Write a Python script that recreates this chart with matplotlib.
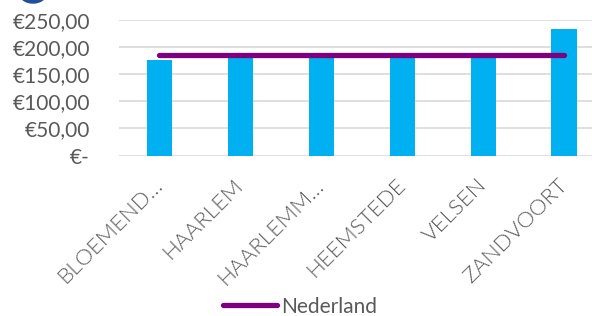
import matplotlib
matplotlib.use("Agg")
import matplotlib.pyplot as plt
from matplotlib.patches import Ellipse
from matplotlib.ticker import FuncFormatter

plt.rcParams['font.family'] = ['Lato', 'DejaVu Sans']

categories = ["BLOEMEND…", "HAARLEM", "HAARLEMM…", "HEEMSTEDE", "VELSEN", "ZANDVOORT"]
values = [175.5, 183.0, 183.0, 183.0, 183.0, 232.5]
nederland = [186.0] * 6
yticks = [0, 50, 100, 150, 200, 250]

bar_color = "#00B0F0"
line_color = "#7F007F"
text_color = "#595959"
grid_color = "#D9D9D9"

fig = plt.figure(figsize=(5.92, 3.16), dpi=100)
ax = fig.add_axes([119/592, 1-155.5/316, (604.5-119)/592, (155.5-20)/316])

x = list(range(len(categories)))
ax.bar(x, values, width=0.31, color=bar_color, zorder=2)
ax.plot(x, nederland, color=line_color, lw=3.8, solid_capstyle='round', zorder=3, label="Nederland")

ax.set_xlim(-0.5, len(categories) - 0.5)
ax.set_ylim(0, 250)
ax.set_yticks(yticks)

def fmt(v, pos):
    if v == 0:
        return "€-"
    return "€" + f"{v:.2f}".replace(".", ",")

ax.yaxis.set_major_formatter(FuncFormatter(fmt))
ax.grid(axis='y', color=grid_color, lw=1.2, zorder=0)
ax.set_axisbelow(True)
for s in ax.spines.values():
    s.set_visible(False)
ax.tick_params(axis='both', length=0, colors=text_color, labelsize=15)
ax.tick_params(axis='y', pad=21)
ax.set_xticks(x)
ax.set_xticklabels(categories, rotation=45, ha='right', va='center', rotation_mode='anchor',
                   fontsize=16, fontweight=300)
for lbl in ax.get_xticklabels():
    lbl.set_color(text_color)
ax.tick_params(axis='x', pad=19)

leg = fig.legend(loc='center', bbox_to_anchor=(0.507, 0.03), frameon=False,
                 fontsize=15, handlelength=2.6, handletextpad=0.2, labelcolor=text_color)

fig.add_artist(Ellipse((33/592, 1 + 6/316), 26/592, 18/316, transform=fig.transFigure,
                       color="#1F4E9A", clip_on=False))

fig.savefig("out.png", dpi=100)
